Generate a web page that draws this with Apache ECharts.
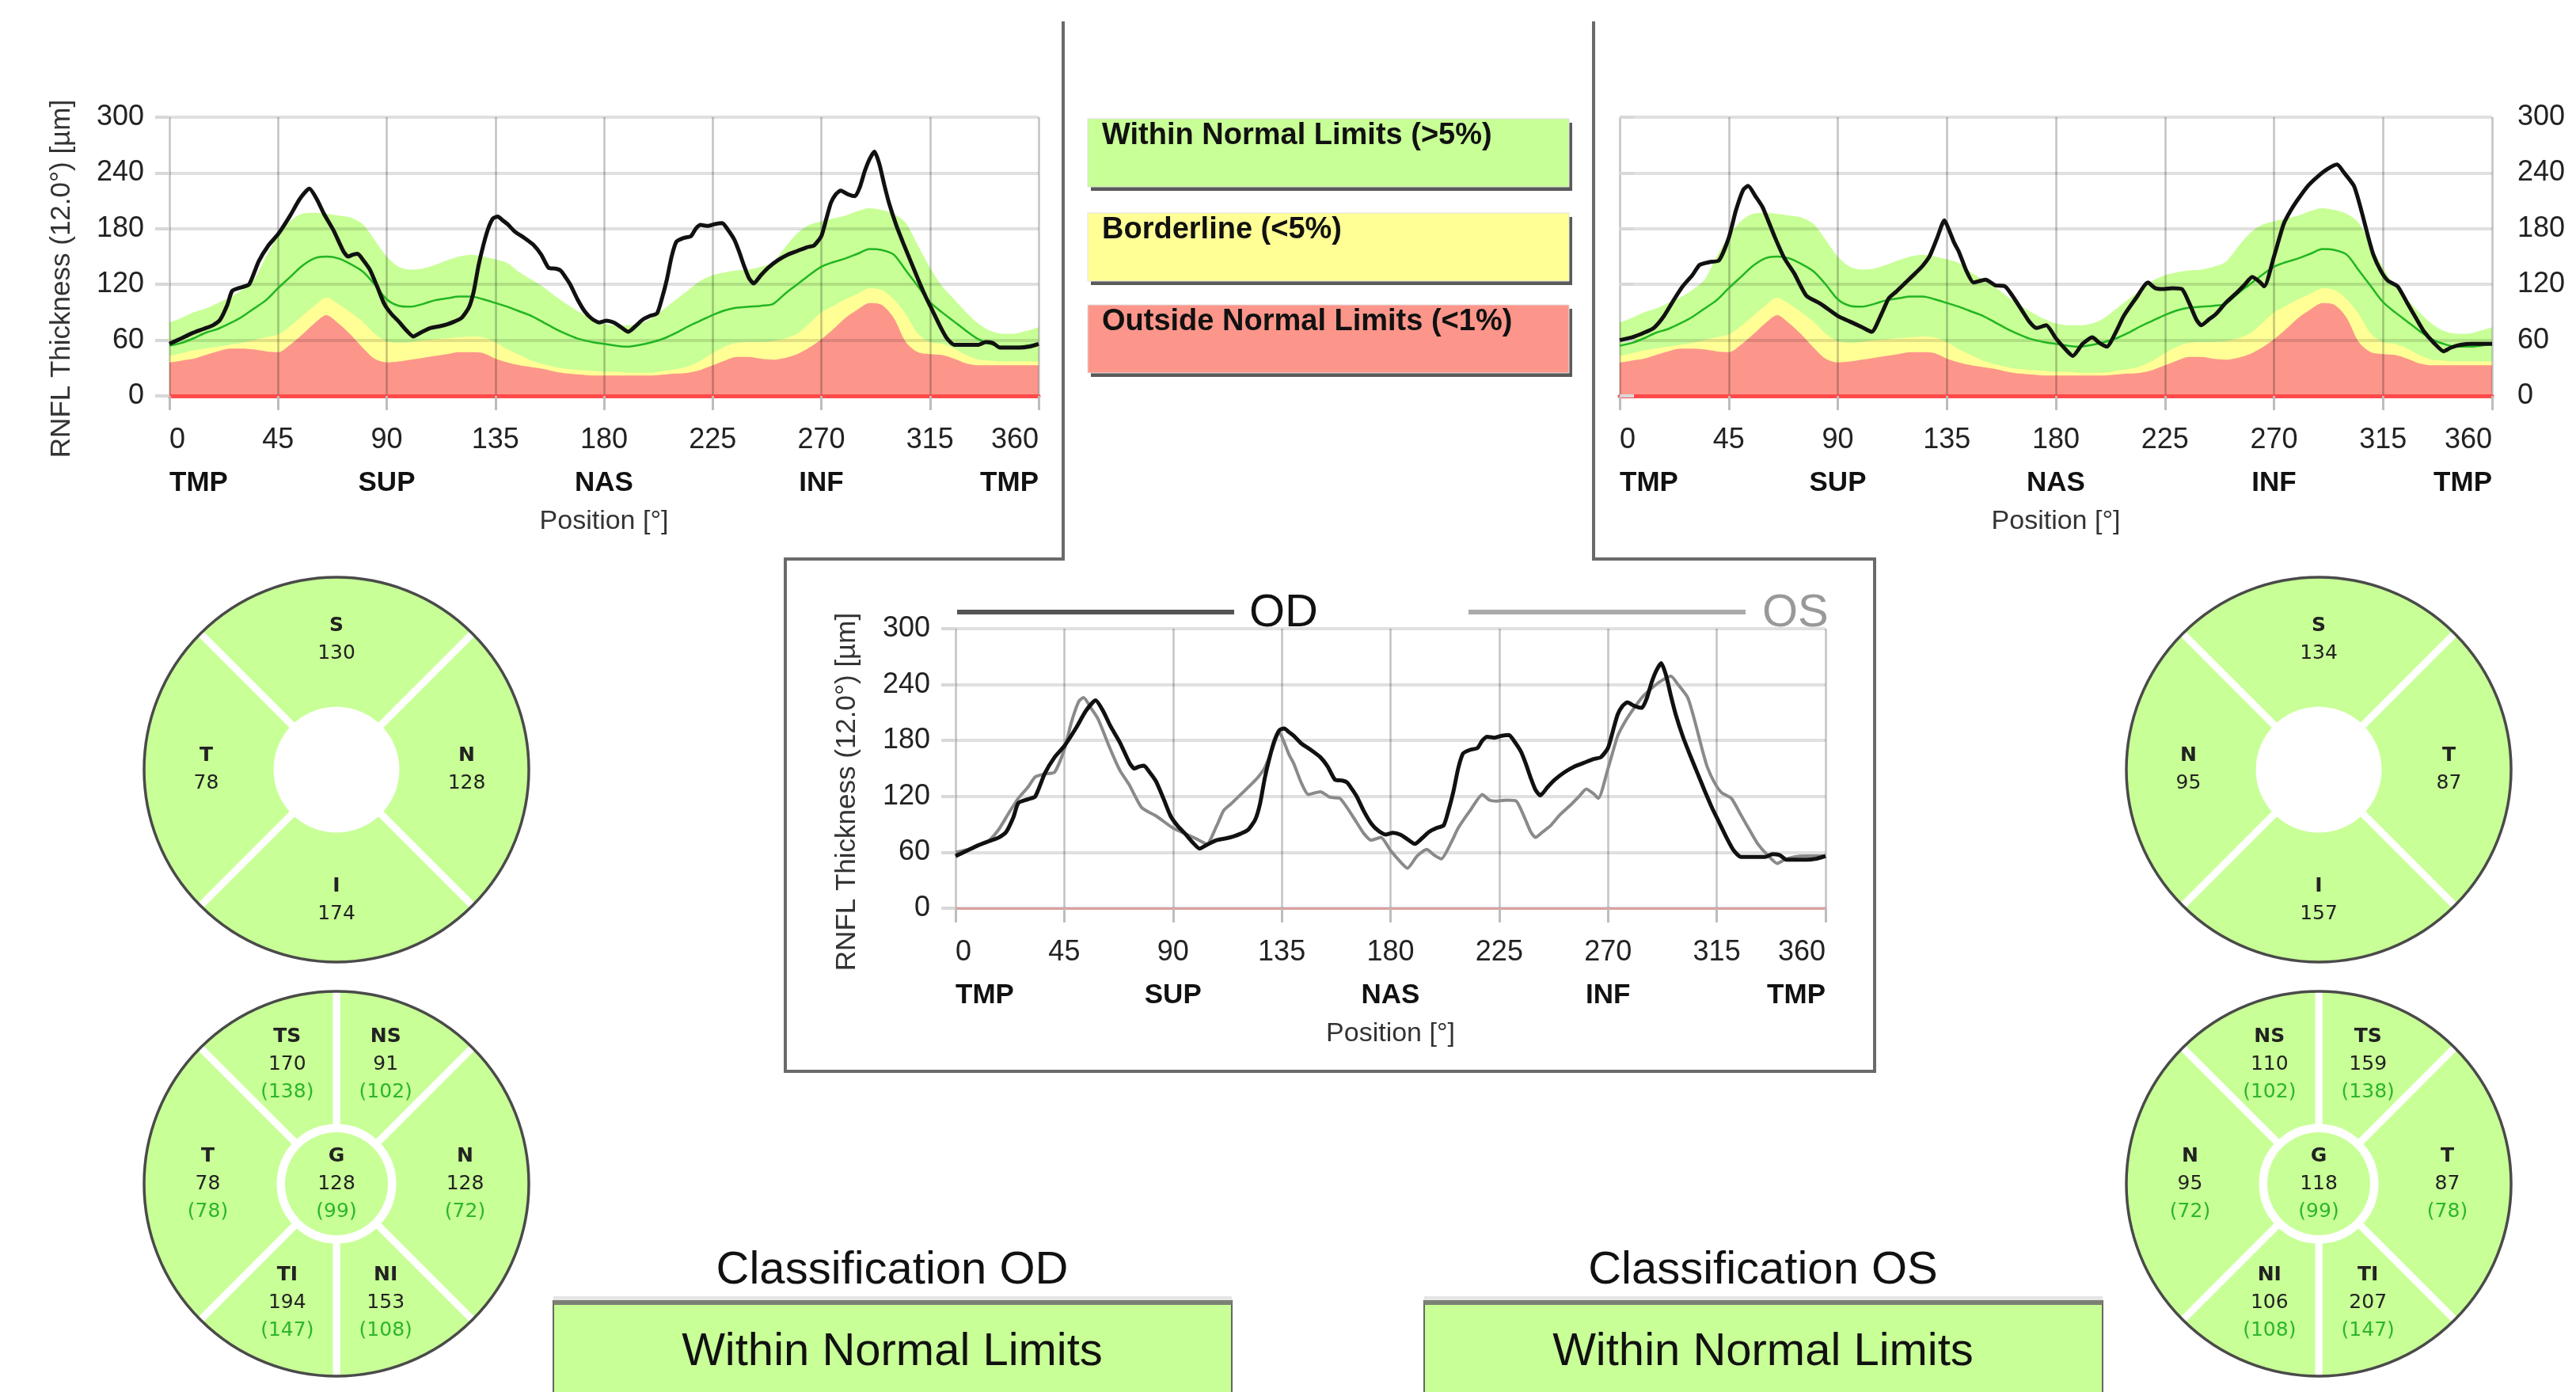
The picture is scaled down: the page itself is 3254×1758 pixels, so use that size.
<!DOCTYPE html>
<html>
<head>
<meta charset="utf-8">
<script src="https://cdn.jsdelivr.net/npm/echarts@6/dist/echarts.min.js"></script>
<style>
  html, body { margin: 0; padding: 0; background: #fff; }
  #main { width: 3254px; height: 1758px; }
</style>
</head>
<body>
<div id="main"></div>
<script>
// ---- data ----
const regionLabels = ['TMP', 'SUP', 'NAS', 'INF', 'TMP'];

// normative bands, every 5 degrees
const bandPos = [0,5,10,15,20,25,30,35,40,45,50,55,60,65,70,75,80,85,90,95,100,105,110,115,120,125,130,135,140,145,150,155,160,165,170,175,180,185,190,195,200,205,210,215,220,225,230,235,240,245,250,255,260,265,270,275,280,285,290,295,300,305,310,315,320,325,330,335,340,345,350,355,360];
const p95 = [79,84,90,94,100,106,114,125,150,172,188,196,197,196,194,192,185,168,150,139,136,137,141,146,150,152,150,147,143,133,125,117,107,98,90,83,78,76,76,78,84,94,104,114,124,130,133,135,136,139,144,160,175,184,188,191,194,199,202,200,196,186,162,138,118,104,90,78,70,67,67,70,74];
const p5 = [43,46,49,51,53,55,57,60,63,66,75,86,97,106,99,90,80,67,59,57,58,60,61,62,63,64,63,58,50,44,38,34,31,29,28,27,26,26,25,25,25,27,29,32,38,46,53,57,58,58,59,62,67,78,90,97,104,110,116,114,104,88,67,58,56,51,44,39,38,37,37,37,37];
const p1 = [36,38,40,44,48,51,51,50,48,47,55,66,78,87,78,66,52,40,36,37,39,41,43,45,47,47,46,40,36,33,31,29,26,24,23,22,22,22,22,22,22,23,24,25,28,33,38,42,42,40,39,41,45,52,61,72,84,93,100,98,84,58,47,45,44,40,35,33,33,33,33,33,33];
const p50 = [54,57,62,68,72,78,85,94,103,116,128,140,148,150,148,142,134,120,104,97,96,99,103,105,107,107,104,100,96,91,86,79,72,66,61,58,56,54,53,55,58,62,68,75,81,87,92,95,96,97,99,110,120,130,139,144,148,153,158,157,152,135,118,101,90,80,70,61,56,53,53,54,56];

// RNFL profiles [position deg, thickness um]
const odCurve = [[0,56],[5,62],[9,67],[14,72],[18,76],[21,82],[24,98],[26,113],[30,117],[33,120],[37,145],[41,162],[45,174],[50,194],[54,212],[58,223],[61,212],[64,196],[68,178],[72,156],[74,150],[76,152],[78,153],[80,147],[83,136],[86,118],[89,99],[92,88],[95,80],[98,71],[101,64],[104,68],[108,73],[112,75],[115,77],[118,80],[121,84],[124,95],[126,112],[128,140],[130,162],[132,180],[134,191],[136,193],[138,189],[140,185],[143,177],[147,170],[151,162],[154,152],[157,138],[160,137],[162,135],[164,128],[166,120],[169,104],[172,91],[175,83],[178,79],[181,81],[184,79],[187,74],[190,69],[193,75],[196,82],[199,86],[202,89],[204,105],[206,125],[208,150],[210,166],[213,170],[216,172],[218,180],[220,184],[223,183],[226,185],[229,186],[231,180],[234,168],[236,155],[238,140],[240,127],[242,121],[245,130],[248,138],[252,146],[256,152],[260,156],[264,160],[267,162],[270,172],[272,190],[274,208],[276,217],[278,221],[281,217],[284,215],[286,225],[288,242],[290,255],[292,263],[294,250],[296,228],[298,208],[301,184],[304,164],[307,145],[310,126],[313,108],[316,92],[319,76],[322,62],[325,55],[330,55],[335,55],[338,58],[341,57],[344,52],[348,52],[352,52],[356,53],[360,56]];
const osCurve = [[0,60],[5,63],[10,68],[14,73],[18,85],[22,102],[26,118],[30,130],[33,141],[37,144],[41,146],[45,170],[48,200],[51,222],[53,226],[56,215],[59,203],[64,171],[68,148],[72,132],[77,108],[83,99],[90,86],[95,80],[100,74],[104,69],[108,88],[111,105],[114,112],[118,122],[122,132],[125,140],[128,151],[131,170],[134,189],[136,178],[138,165],[140,155],[143,135],[146,122],[149,124],[151,125],[155,119],[159,118],[162,108],[166,92],[169,80],[172,73],[176,76],[180,62],[184,50],[187,43],[191,56],[195,63],[198,57],[201,53],[205,70],[208,86],[213,105],[218,122],[221,116],[224,115],[228,116],[232,115],[235,100],[238,82],[240,76],[243,82],[246,88],[250,100],[255,112],[258,120],[261,128],[264,123],[266,118],[270,150],[274,185],[277,200],[280,212],[284,226],[288,236],[292,244],[296,249],[299,240],[303,226],[306,200],[309,170],[311,152],[314,135],[317,124],[321,118],[325,100],[329,82],[332,69],[336,57],[340,48],[343,52],[347,55],[352,56],[356,56],[360,56]];

// sector thickness maps
const odQuadNames = ['S', 'N', 'I', 'T'];
const odQuadValues = [130, 128, 174, 78];
const osQuadNames = ['S', 'T', 'I', 'N'];
const osQuadValues = [134, 87, 157, 95];

const odSectorNames = ['NS', 'N', 'NI', 'TI', 'T', 'TS'];
const odSectorValues = [91, 128, 153, 194, 78, 170];
const odSectorNorms = [102, 72, 108, 147, 78, 138];
const osSectorNames = ['TS', 'T', 'TI', 'NI', 'N', 'NS'];
const osSectorValues = [159, 87, 207, 106, 95, 110];
const osSectorNorms = [138, 78, 147, 108, 72, 102];

const odGlobal = 128, osGlobal = 118, globalNorm = 99;

const legendTexts = ['Within Normal Limits (>5%)', 'Borderline (<5%)', 'Outside Normal Limits (<1%)'];
const classOD = 'Within Normal Limits';
const classOS = 'Within Normal Limits';

// ---- styling ----
const FONT = '"Liberation Sans", Arial, sans-serif';
const WIDE = '"DejaVu Sans", Verdana, sans-serif';
const GREEN = '#c8ff96';
const YELLOW = '#ffff96';
const RED = '#fc968a';

const zip = (xs, ys) => xs.map((x, i) => [x, ys[i]]);

function xAxesFor(grid, lineColor, lineWidth) {
  return [{
    type: 'value', gridIndex: grid, position: 'bottom', min: 0, max: 360, interval: 45, z: 3,
    axisLine: { show: true, lineStyle: { color: lineColor, width: lineWidth } },
    axisTick: { show: true, length: 18, lineStyle: { color: '#bdbdbd', width: 3 } },
    splitLine: { show: true, lineStyle: { color: 'rgba(0,0,0,0.24)', width: 2.5 } },
    axisLabel: { fontFamily: FONT, fontSize: 36, color: '#222', margin: 38,
                 alignMinLabel: 'left', alignMaxLabel: 'right' },
    name: 'Position [°]', nameLocation: 'middle', nameGap: 142,
    nameTextStyle: { fontFamily: FONT, fontSize: 34, color: '#333' }
  }, {
    // region names row under the degree labels
    type: 'value', gridIndex: grid, position: 'bottom', min: 0, max: 360, interval: 90,
    axisLine: { show: false }, axisTick: { show: false }, splitLine: { show: false },
    axisLabel: { fontFamily: FONT, fontSize: 35, fontWeight: 'bold', color: '#111', margin: 93,
                 alignMinLabel: 'left', alignMaxLabel: 'right',
                 formatter: v => regionLabels[Math.round(v / 90)] }
  }];
}

function yAxisFor(grid, pos) {
  return {
    type: 'value', gridIndex: grid, min: 0, max: 300, interval: 60, position: pos, z: 3,
    axisLine: { show: false },
    axisTick: { show: true, length: 18, lineStyle: { color: '#d8d8d8', width: 4 } },
    splitLine: { show: true, lineStyle: { color: 'rgba(0,0,0,0.12)', width: 4 } },
    axisLabel: { fontFamily: FONT, fontSize: 36, color: '#222', margin: 32 }
  };
}

function bandSeries(xi, yi) {
  const band = (vals, color) => ({
    type: 'line', xAxisIndex: xi, yAxisIndex: yi, data: zip(bandPos, vals),
    smooth: 0.3, symbol: 'none', z: 1, silent: true,
    lineStyle: { width: 0, opacity: 0 },
    areaStyle: { color: color, opacity: 1 }
  });
  return [
    band(p95, GREEN), band(p5, YELLOW), band(p1, RED),
    { type: 'line', xAxisIndex: xi, yAxisIndex: yi, data: zip(bandPos, p50), smooth: 0.3,
      symbol: 'none', z: 4, silent: true, lineStyle: { color: '#22b522', width: 2.5 } }
  ];
}

function curve(xi, yi, data, color, width, z) {
  return { type: 'line', xAxisIndex: xi, yAxisIndex: yi, data: data, smooth: 0.2,
           symbol: 'none', z: z, silent: true, lineStyle: { color: color, width: width } };
}

const richCircle = {
  b: { fontFamily: WIDE, fontSize: 25, fontWeight: 'bold', color: '#222', lineHeight: 35 },
  v: { fontFamily: WIDE, fontSize: 25, color: '#222', lineHeight: 35 },
  r: { fontFamily: WIDE, fontSize: 25, color: '#2db52d', lineHeight: 35 }
};

function quadPie(cx, cy, names, values) {
  return {
    type: 'pie', center: [cx, cy], radius: [75, 248], startAngle: 135, clockwise: true,
    silent: true, z: 2,
    itemStyle: { color: GREEN, borderColor: '#fff', borderWidth: 9 },
    label: { show: true, position: 'inside', rich: richCircle,
             formatter: p => '{b|' + p.name + '}\n{v|' + values[p.dataIndex] + '}' },
    labelLine: { show: false },
    emphasis: { disabled: true },
    data: names.map(n => ({ name: n, value: 90 }))
  };
}

function sectorPie(cx, cy, names, values, norms) {
  return {
    type: 'pie', center: [cx, cy], radius: [71, 248], startAngle: 90, clockwise: true,
    silent: true, z: 2,
    itemStyle: { color: GREEN, borderColor: '#fff', borderWidth: 9 },
    label: { show: true, position: 'inside', rich: richCircle,
             formatter: p => '{b|' + p.name + '}\n{v|' + values[p.dataIndex] + '}\n{r|(' + norms[p.dataIndex] + ')}' },
    labelLine: { show: false },
    emphasis: { disabled: true },
    data: names.map(n => ({ name: n, value: n.length === 1 ? 90 : 45 }))
  };
}

function globalPie(cx, cy, value, norm) {
  return {
    type: 'pie', center: [cx, cy], radius: [0, 65], silent: true, z: 2,
    itemStyle: { color: GREEN },
    label: { show: true, position: 'center', rich: richCircle,
             formatter: () => '{b|G}\n{v|' + value + '}\n{r|(' + norm + ')}' },
    labelLine: { show: false },
    emphasis: { disabled: true },
    data: [{ name: 'G', value: 1 }]
  };
}

// ---- graphic furniture ----
const graphics = [];
graphics.push({ type: 'polyline', silent: true,
  shape: { points: [[1343, 27], [1343, 706], [992, 706], [992, 1353], [2368, 1353], [2368, 706], [2013, 706], [2013, 27]] },
  style: { fill: null, stroke: '#6a6a6a', lineWidth: 4 } });

const legendColors = [GREEN, YELLOW, RED];
const legendTops = [150, 269, 385];
legendTexts.forEach((t, i) => {
  graphics.push({ type: 'rect', silent: true, shape: { x: 1378, y: legendTops[i] + 5, width: 608, height: 86 },
                  style: { fill: '#5a5a5a' } });
  graphics.push({ type: 'rect', silent: true, shape: { x: 1374, y: legendTops[i], width: 608, height: 86 },
                  style: { fill: legendColors[i], stroke: '#e0e0e0', lineWidth: 1 } });
  graphics.push({ type: 'text', silent: true, x: 1392, y: legendTops[i] + 22,
                  style: { text: t, font: 'bold 38px ' + FONT, fill: '#111', verticalAlign: 'middle' } });
});

// OD / OS key in the comparison chart
graphics.push({ type: 'line', silent: true, shape: { x1: 1209, y1: 773, x2: 1559, y2: 773 }, style: { stroke: '#555', lineWidth: 6 } });
graphics.push({ type: 'text', silent: true, x: 1578, y: 775, style: { text: 'OD', font: '58px ' + FONT, fill: '#111', verticalAlign: 'middle' } });
graphics.push({ type: 'line', silent: true, shape: { x1: 1855, y1: 773, x2: 2205, y2: 773 }, style: { stroke: '#aaa', lineWidth: 6 } });
graphics.push({ type: 'text', silent: true, x: 2226, y: 775, style: { text: 'OS', font: '58px ' + FONT, fill: '#999', verticalAlign: 'middle' } });

// rotated y-axis names
[[78, 352], [1070, 1000]].forEach(p => {
  graphics.push({ type: 'text', silent: true, x: p[0], y: p[1], rotation: Math.PI / 2,
    style: { text: 'RNFL Thickness (12.0°) [µm]', font: '35px ' + FONT, fill: '#333', align: 'center', verticalAlign: 'middle' } });
});

// circle outlines
[[425, 972], [425, 1495], [2929, 972], [2929, 1495]].forEach(c => {
  graphics.push({ type: 'circle', silent: true, z: 50, shape: { cx: c[0], cy: c[1], r: 243 },
                  style: { fill: null, stroke: '#4a4a4a', lineWidth: 3.5 } });
});

// classification blocks
[[699, 'Classification OD', classOD], [1799, 'Classification OS', classOS]].forEach(b => {
  const cx = b[0] + 428;
  graphics.push({ type: 'text', silent: true, x: cx, y: 1605,
    style: { text: b[1], font: '58px ' + FONT, fill: '#111', align: 'center', verticalAlign: 'middle' } });
  graphics.push({ type: 'rect', silent: true, shape: { x: b[0], y: 1637, width: 857, height: 6 }, style: { fill: '#e6e6e6' } });
  graphics.push({ type: 'rect', silent: true, shape: { x: b[0], y: 1643, width: 857, height: 140 },
    style: { fill: GREEN, stroke: '#666', lineWidth: 2 } });
  graphics.push({ type: 'rect', silent: true, shape: { x: b[0], y: 1642, width: 857, height: 6 }, style: { fill: '#7b8273' } });
  graphics.push({ type: 'text', silent: true, x: cx, y: 1708,
    style: { text: b[2], font: '58px ' + FONT, fill: '#111', align: 'center', verticalAlign: 'middle' } });
});

// ---- chart ----
const chart = echarts.init(document.getElementById('main'));
chart.setOption({
  animation: false,
  backgroundColor: '#fff',
  grid: [
    { left: 214, top: 148, width: 1098, height: 352 },
    { left: 2046, top: 148, width: 1102, height: 352 },
    { left: 1207, top: 794, width: 1099, height: 353 }
  ],
  xAxis: [].concat(xAxesFor(0, '#ff4a4a', 5), xAxesFor(1, '#ff4a4a', 5), xAxesFor(2, '#d9a0a0', 3)),
  yAxis: [yAxisFor(0, 'left'), yAxisFor(1, 'right'), yAxisFor(2, 'left')],
  graphic: graphics,
  series: [].concat(
    bandSeries(0, 0),
    [curve(0, 0, odCurve, '#111', 5, 5)],
    bandSeries(2, 1),
    [curve(2, 1, osCurve, '#111', 5, 5)],
    [curve(4, 2, osCurve, '#8a8a8a', 4, 5), curve(4, 2, odCurve, '#111', 5, 6)],
    [quadPie(425, 972, odQuadNames, odQuadValues),
     sectorPie(425, 1495, odSectorNames, odSectorValues, odSectorNorms),
     globalPie(425, 1495, odGlobal, globalNorm),
     quadPie(2929, 972, osQuadNames, osQuadValues),
     sectorPie(2929, 1495, osSectorNames, osSectorValues, osSectorNorms),
     globalPie(2929, 1495, osGlobal, globalNorm)]
  )
});
</script>
</body>
</html>
